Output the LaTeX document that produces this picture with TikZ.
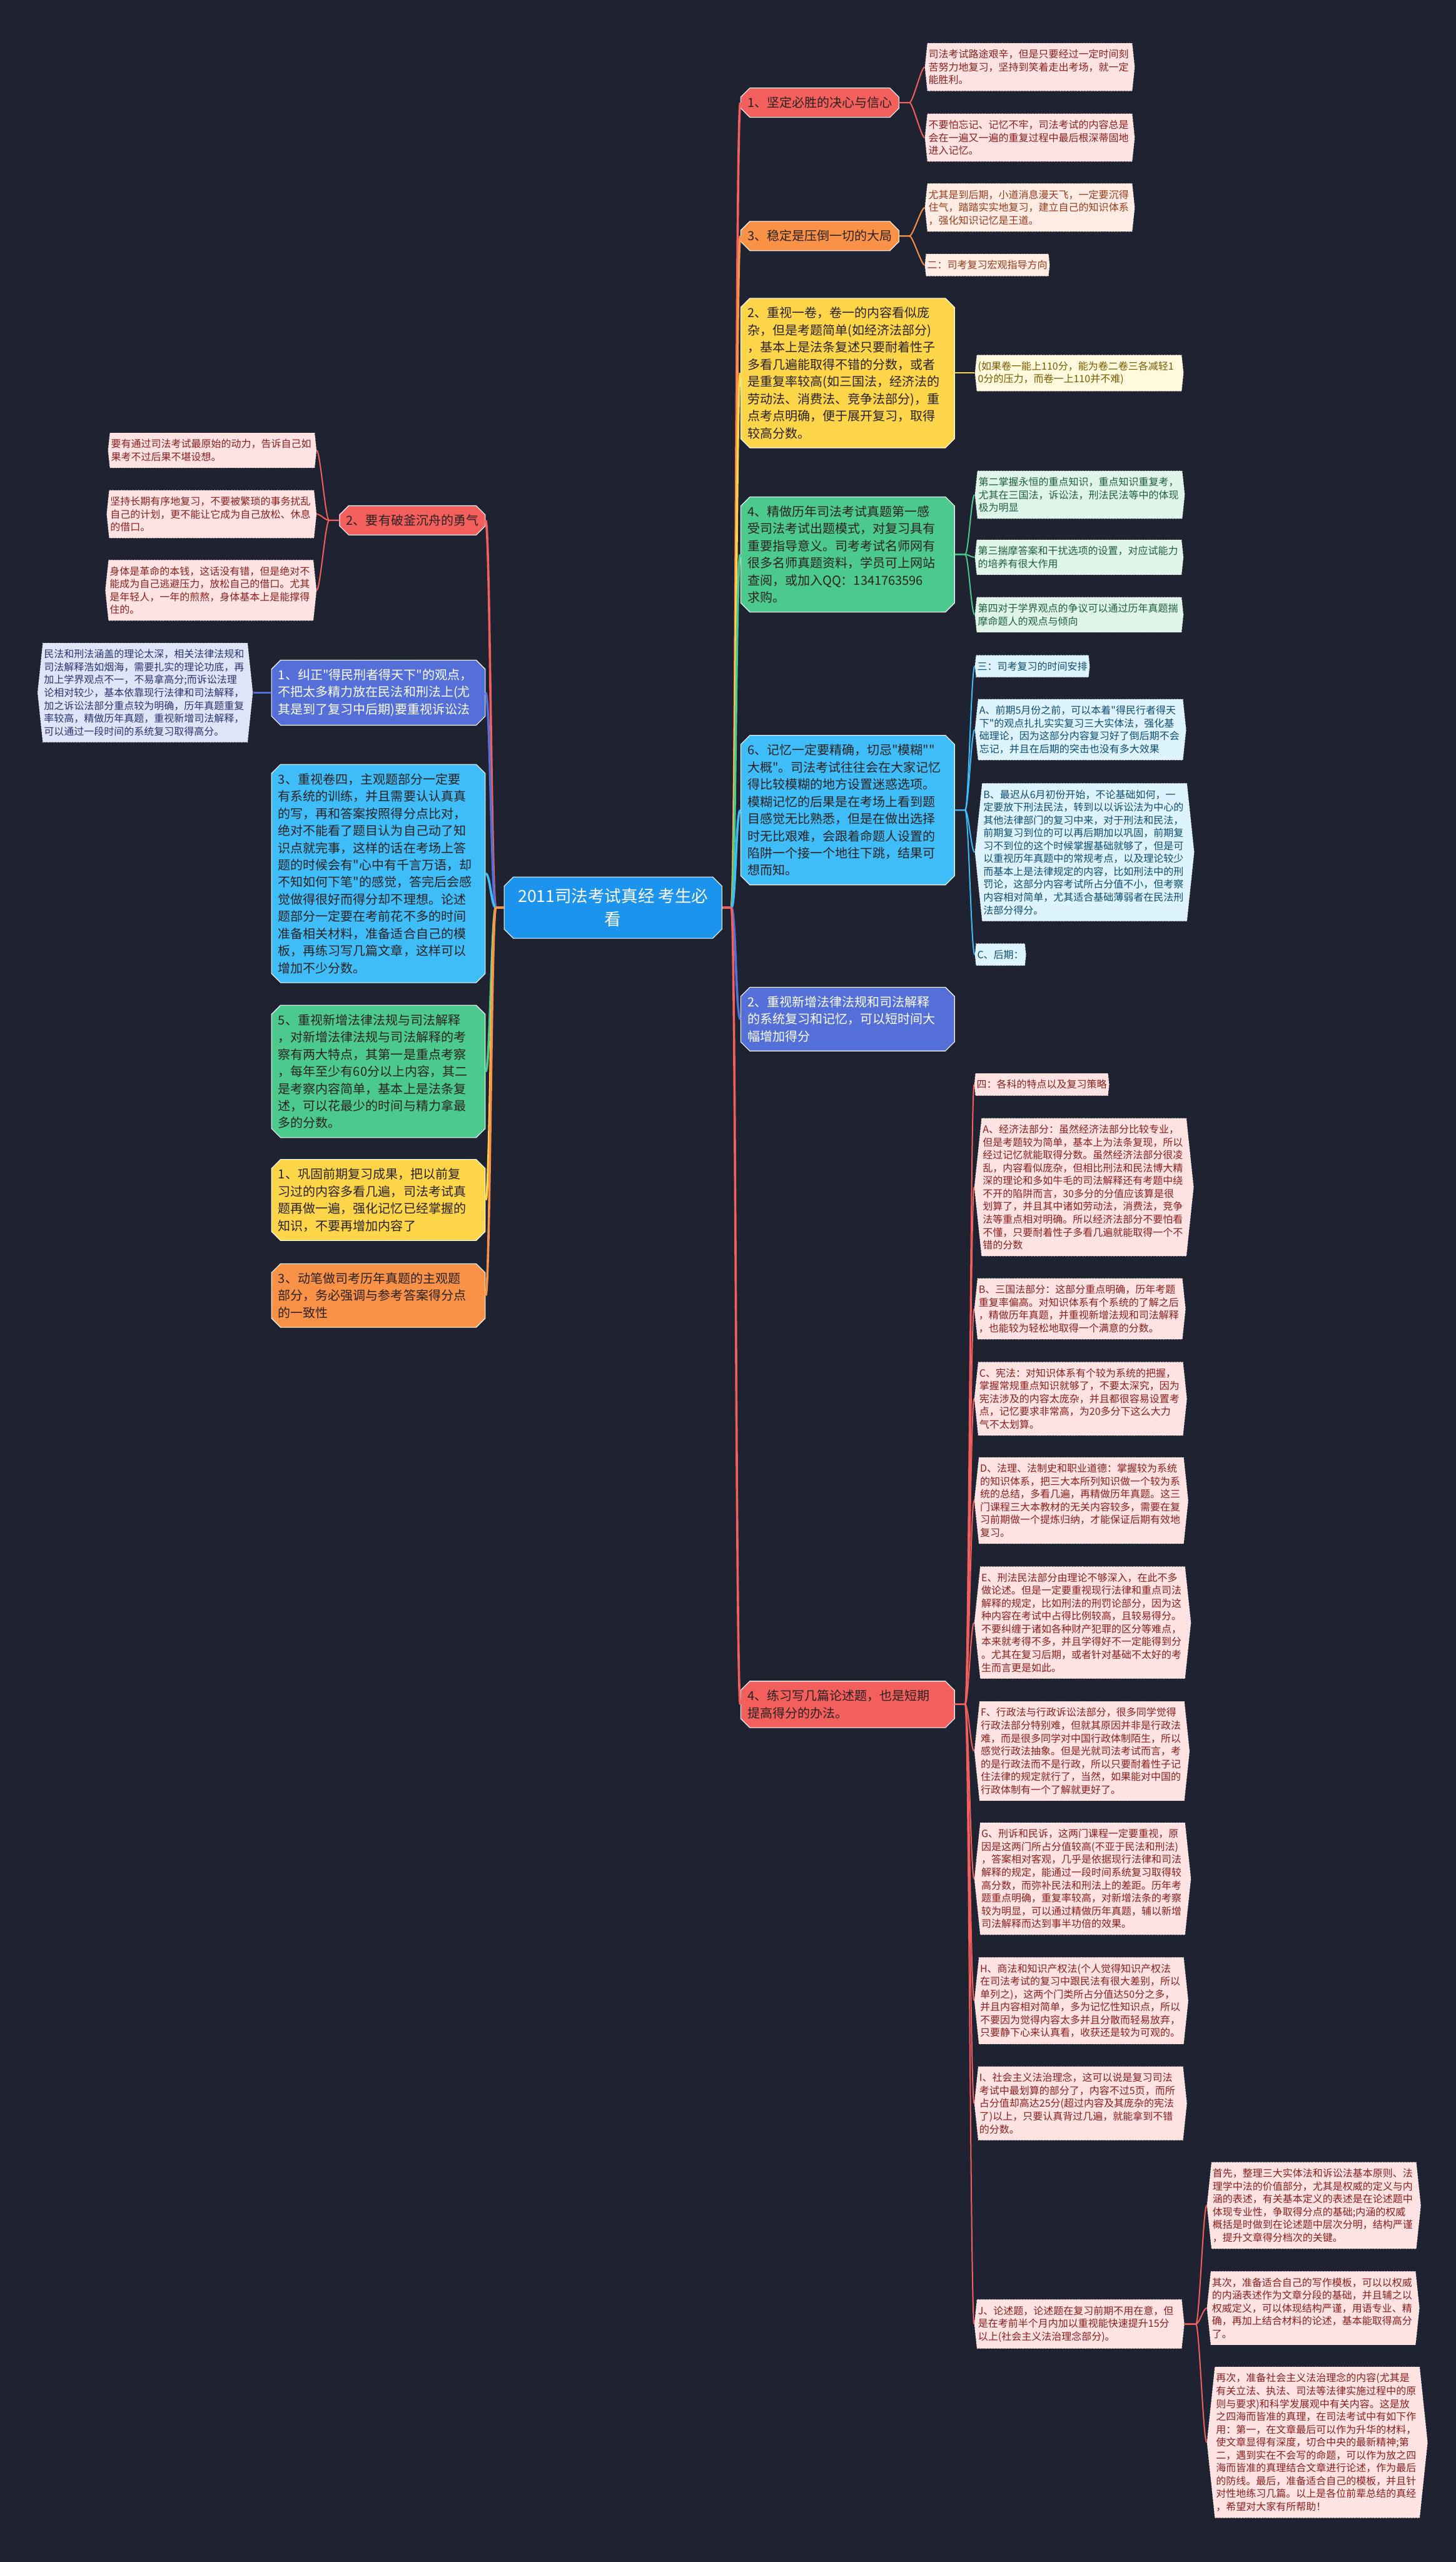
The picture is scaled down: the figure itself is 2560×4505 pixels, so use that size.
\documentclass[tikz,border=0pt]{standalone}
\usepackage{fontspec}
\setmainfont{Noto Sans CJK SC}[Ligatures=TeXOff]
\usepackage{tikz}
\usetikzlibrary{shapes.misc,shapes.symbols}
\definecolor{bgnavy}{HTML}{1F2231}
\definecolor{inkdark}{HTML}{2A2222}
\definecolor{centerblue}{HTML}{1C94EE}
\definecolor{redmain}{HTML}{F25F5C}
\definecolor{orangemain}{HTML}{F99247}
\definecolor{yellowmain}{HTML}{FDD548}
\definecolor{greenmain}{HTML}{4CC98C}
\definecolor{skymain}{HTML}{3EBDF8}
\definecolor{purplemain}{HTML}{5470D8}
\definecolor{pinkfill}{HTML}{FFE3E3}
\definecolor{peachfill}{HTML}{FFEDE5}
\definecolor{lemonfill}{HTML}{FFFADD}
\definecolor{mintfill}{HTML}{E0F5E9}
\definecolor{icefill}{HTML}{DDF4FF}
\definecolor{lavfill}{HTML}{DFE4F8}
\definecolor{wine}{HTML}{8B1E1E}
\definecolor{rust}{HTML}{9A3A1A}
\definecolor{olive}{HTML}{7A5A00}
\definecolor{pine}{HTML}{1E5E3E}
\definecolor{deepsea}{HTML}{0F4C70}
\definecolor{navyink}{HTML}{2A3470}
\newcommand{\trunkfont}{\fontsize{5.5pt}{7.55pt}\selectfont}
\newcommand{\leaffont}{\fontsize{4.4pt}{5.65pt}\selectfont}
\newcommand{\rootfont}{\fontsize{7.3pt}{10.2pt}\selectfont}
\tikzset{
  root/.style={chamfered rectangle,chamfered rectangle xsep=2pt,chamfered rectangle ysep=2pt,
    fill=centerblue,draw=white,line width=0.3pt,text=white,align=center,font=\rootfont,
    minimum width=95.75pt,inner ysep=3pt},
  trunk/.style={chamfered rectangle,chamfered rectangle xsep=2pt,chamfered rectangle ysep=2pt,
    inner xsep=1pt,inner ysep=1.9pt,draw=white,line width=0.3pt,align=left,font=\trunkfont,text=inkdark},
  widetrunk/.style={trunk,text width=88pt},
  tag/.style={signal,signal to=east and west,signal pointer angle=168,inner xsep=0.5pt,inner ysep=2.8pt,
    draw=white,densely dotted,line width=0.25pt,align=left,font=\leaffont},
  leaf/.style={tag,text width=89pt},
  pinkleaf/.style={fill=pinkfill,text=wine},
  peachleaf/.style={fill=peachfill,text=rust},
  lemonleaf/.style={fill=lemonfill,text=olive},
  mintleaf/.style={fill=mintfill,text=pine},
  iceleaf/.style={fill=icefill,text=deepsea},
  lavleaf/.style={fill=lavfill,text=navyink},
  link/.style={line width=1pt},
  twig/.style={line width=0.55pt}
}
\begin{document}
\begin{tikzpicture}[x=0.25pt,y=-0.25pt]
\fill[bgnavy] (0,0) rectangle (2560,4505);
\useasboundingbox (0,0) rectangle (2560,4505);
\node[root,anchor=west] (ctr) at (886,1596) {2011司法考试真经 考生必\\看};
\coordinate (hubR) at (1286,1596);
\coordinate (hubL) at (872,1596);
% right branches
\node[trunk,fill=redmain,anchor=west] (r1) at (1302,180.5) {1、坚定必胜的决心与信心};
\node[trunk,fill=orangemain,anchor=west] (r3) at (1302,415) {3、稳定是压倒一切的大局};
\node[widetrunk,fill=yellowmain,anchor=west] (r2) at (1302,656) {2、重视一卷，卷一的内容看似庞\\杂，但是考题简单(如经济法部分)\\，基本上是法条复述只要耐着性子\\多看几遍能取得不错的分数，或者\\是重复率较高(如三国法，经济法的\\劳动法、消费法、竞争法部分)，重\\点考点明确，便于展开复习，取得\\较高分数。};
\node[widetrunk,fill=greenmain,anchor=west] (r4) at (1302,975) {4、精做历年司法考试真题第一感\\受司法考试出题模式，对复习具有\\重要指导意义。司考考试名师网有\\很多名师真题资料，学员可上网站\\查阅，或加入QQ：1341763596\\求购。};
\node[widetrunk,fill=skymain,anchor=west] (r6) at (1302,1424.5) {6、记忆一定要精确，切忌"模糊""\\大概"。司法考试往往会在大家记忆\\得比较模糊的地方设置迷惑选项。\\模糊记忆的后果是在考场上看到题\\目感觉无比熟悉，但是在做出选择\\时无比艰难，会跟着命题人设置的\\陷阱一个接一个地往下跳，结果可\\想而知。};
\node[widetrunk,fill=purplemain,text=white,anchor=west] (r2x) at (1302,1792) {2、重视新增法律法规和司法解释\\的系统复习和记忆，可以短时间大\\幅增加得分};
\node[widetrunk,fill=redmain,anchor=west] (r4x) at (1302,2997) {4、练习写几篇论述题，也是短期\\提高得分的办法。};
% right leaves
\node[leaf,pinkleaf,anchor=west] (r1a) at (1626,118) {司法考试路途艰辛，但是只要经过一定时间刻\\苦努力地复习，坚持到笑着走出考场，就一定\\能胜利。};
\node[leaf,pinkleaf,anchor=west] (r1b) at (1626,242) {不要怕忘记、记忆不牢，司法考试的内容总是\\会在一遍又一遍的重复过程中最后根深蒂固地\\进入记忆。};
\node[leaf,peachleaf,anchor=west] (r3a) at (1626,365) {尤其是到后期，小道消息漫天飞，一定要沉得\\住气，踏踏实实地复习，建立自己的知识体系\\，强化知识记忆是王道。};
\node[tag,peachleaf,anchor=west] (r3b) at (1626,466) {二：司考复习宏观指导方向};
\node[leaf,lemonleaf,anchor=west] (r2a) at (1714,656) {(如果卷一能上110分，能为卷二卷三各减轻1\\0分的压力，而卷一上110并不难)};
\node[leaf,mintleaf,anchor=west] (r4a) at (1714,870) {第二掌握永恒的重点知识，重点知识重复考，\\尤其在三国法，诉讼法，刑法民法等中的体现\\极为明显};
\node[leaf,mintleaf,anchor=west] (r4b) at (1714,980) {第三揣摩答案和干扰选项的设置，对应试能力\\的培养有很大作用};
\node[leaf,mintleaf,anchor=west] (r4c) at (1714,1081) {第四对于学界观点的争议可以通过历年真题揣\\摩命题人的观点与倾向};
\node[tag,iceleaf,anchor=west] (r6a) at (1714,1171.5) {三：司考复习的时间安排};
\node[leaf,iceleaf,anchor=west] (r6b) at (1714,1283) {A、前期5月份之前，可以本着"得民行者得天\\下"的观点扎扎实实复习三大实体法，强化基\\础理论，因为这部分内容复习好了倒后期不会\\忘记，并且在后期的突击也没有多大效果};
\node[leaf,iceleaf,anchor=west] (r6c) at (1714,1498.5) {B、最迟从6月初份开始，不论基础如何，一\\定要放下刑法民法，转到以以诉讼法为中心的\\其他法律部门的复习中来，对于刑法和民法，\\前期复习到位的可以再后期加以巩固，前期复\\习不到位的这个时候掌握基础就够了，但是可\\以重视历年真题中的常规考点，以及理论较少\\而基本上是法律规定的内容，比如刑法中的刑\\罚论，这部分内容考试所占分值不小，但考察\\内容相对简单，尤其适合基础薄弱者在民法刑\\法部分得分。};
\node[tag,iceleaf,anchor=west] (r6d) at (1714,1678.5) {C、后期：};
\node[tag,pinkleaf,anchor=west] (sk0) at (1713,1907) {四：各科的特点以及复习策略};
\node[leaf,pinkleaf,anchor=west] (skA) at (1713,2087.5) {A、经济法部分：虽然经济法部分比较专业，\\但是考题较为简单，基本上为法条复现，所以\\经过记忆就能取得分数。虽然经济法部分很凌\\乱，内容看似庞杂，但相比刑法和民法博大精\\深的理论和多如牛毛的司法解释还有考题中绕\\不开的陷阱而言，30多分的分值应该算是很\\划算了，并且其中诸如劳动法，消费法，竞争\\法等重点相对明确。所以经济法部分不要怕看\\不懂，只要耐着性子多看几遍就能取得一个不\\错的分数};
\node[leaf,pinkleaf,anchor=west] (skB) at (1713,2301.5) {B、三国法部分：这部分重点明确，历年考题\\重复率偏高。对知识体系有个系统的了解之后\\，精做历年真题，并重视新增法规和司法解释\\，也能较为轻松地取得一个满意的分数。};
\node[leaf,pinkleaf,anchor=west] (skC) at (1713,2459.5) {C、宪法：对知识体系有个较为系统的把握，\\掌握常规重点知识就够了，不要太深究，因为\\宪法涉及的内容太庞杂，并且都很容易设置考\\点，记忆要求非常高，为20多分下这么大力\\气不太划算。};
\node[leaf,pinkleaf,anchor=west] (skD) at (1713,2638.5) {D、法理、法制史和职业道德：掌握较为系统\\的知识体系，把三大本所列知识做一个较为系\\统的总结，多看几遍，再精做历年真题。这三\\门课程三大本教材的无关内容较多，需要在复\\习前期做一个提炼归纳，才能保证后期有效地\\复习。};
\node[leaf,pinkleaf,anchor=west] (skE) at (1713,2853) {E、刑法民法部分由理论不够深入，在此不多\\做论述。但是一定要重视现行法律和重点司法\\解释的规定，比如刑法的刑罚论部分，因为这\\种内容在考试中占得比例较高，且较易得分。\\不要纠缠于诸如各种财产犯罪的区分等难点，\\本来就考得不多，并且学得好不一定能得到分\\。尤其在复习后期，或者针对基础不太好的考\\生而言更是如此。};
\node[leaf,pinkleaf,anchor=west] (skF) at (1713,3079) {F、行政法与行政诉讼法部分，很多同学觉得\\行政法部分特别难，但就其原因并非是行政法\\难，而是很多同学对中国行政体制陌生，所以\\感觉行政法抽象。但是光就司法考试而言，考\\的是行政法而不是行政，所以只要耐着性子记\\住法律的规定就行了，当然，如果能对中国的\\行政体制有一个了解就更好了。};
\node[leaf,pinkleaf,anchor=west] (skG) at (1713,3303.5) {G、刑诉和民诉，这两门课程一定要重视，原\\因是这两门所占分值较高(不亚于民法和刑法)\\，答案相对客观，几乎是依据现行法律和司法\\解释的规定，能通过一段时间系统复习取得较\\高分数，而弥补民法和刑法上的差距。历年考\\题重点明确，重复率较高，对新增法条的考察\\较为明显，可以通过精做历年真题，辅以新增\\司法解释而达到事半功倍的效果。};
\node[leaf,pinkleaf,anchor=west] (skH) at (1713,3518) {H、商法和知识产权法(个人觉得知识产权法\\在司法考试的复习中跟民法有很大差别，所以\\单列之)，这两个门类所占分值达50分之多，\\并且内容相对简单，多为记忆性知识点，所以\\不要因为觉得内容太多并且分散而轻易放弃，\\只要静下心来认真看，收获还是较为可观的。};
\node[leaf,pinkleaf,anchor=west] (skI) at (1713,3698.5) {I、社会主义法治理念，这可以说是复习司法\\考试中最划算的部分了，内容不过5页，而所\\占分值却高达25分(超过内容及其庞杂的宪法\\了)以上，只要认真背过几遍，就能拿到不错\\的分数。};
\node[leaf,pinkleaf,anchor=west] (skJ) at (1713,4086.5) {J、论述题，论述题在复习前期不用在意，但\\是在考前半个月内加以重视能快速提升15分\\以上(社会主义法治理念部分)。};
\node[leaf,pinkleaf,anchor=west] (js1) at (2122,3878) {首先，整理三大实体法和诉讼法基本原则、法\\理学中法的价值部分，尤其是权威的定义与内\\涵的表述，有关基本定义的表述是在论述题中\\体现专业性，争取得分点的基础;内涵的权威\\概括是时做到在论述题中层次分明，结构严谨\\，提升文章得分档次的关键。};
\node[leaf,pinkleaf,anchor=west] (js2) at (2122,4058.5) {其次，准备适合自己的写作模板，可以以权威\\的内涵表述作为文章分段的基础，并且辅之以\\权威定义，可以体现结构严谨，用语专业、精\\确，再加上结合材料的论述，基本能取得高分\\了。};
\node[leaf,pinkleaf,anchor=west] (js3) at (2122,4294.5) {再次，准备社会主义法治理念的内容(尤其是\\有关立法、执法、司法等法律实施过程中的原\\则与要求)和科学发展观中有关内容。这是放\\之四海而皆准的真理，在司法考试中有如下作\\用：第一，在文章最后可以作为升华的材料，\\使文章显得有深度，切合中央的最新精神;第\\二，遇到实在不会写的命题，可以作为放之四\\海而皆准的真理结合文章进行论述，作为最后\\的防线。最后，准备适合自己的模板，并且针\\对性地练习几篇。以上是各位前辈总结的真经\\，希望对大家有所帮助！};
% left branches
\node[trunk,fill=redmain,anchor=east] (l2) at (854,915) {2、要有破釜沉舟的勇气};
\node[widetrunk,fill=purplemain,text=white,anchor=east] (l1) at (854,1218) {1、纠正"得民刑者得天下"的观点，\\不把太多精力放在民法和刑法上(尤\\其是到了复习中后期)要重视诉讼法};
\node[widetrunk,fill=skymain,anchor=east] (l3) at (854,1536) {3、重视卷四，主观题部分一定要\\有系统的训练，并且需要认认真真\\的写，再和答案按照得分点比对，\\绝对不能看了题目认为自己动了知\\识点就完事，这样的话在考场上答\\题的时候会有"心中有千言万语，却\\不知如何下笔"的感觉，答完后会感\\觉做得很好而得分却不理想。论述\\题部分一定要在考前花不多的时间\\准备相关材料，准备适合自己的模\\板，再练习写几篇文章，这样可以\\增加不少分数。};
\node[widetrunk,fill=greenmain,anchor=east] (l5) at (854,1884) {5、重视新增法律法规与司法解释\\，对新增法律法规与司法解释的考\\察有两大特点，其第一是重点考察\\，每年至少有60分以上内容，其二\\是考察内容简单，基本上是法条复\\述，可以花最少的时间与精力拿最\\多的分数。};
\node[widetrunk,fill=yellowmain,anchor=east] (l1y) at (854,2110) {1、巩固前期复习成果，把以前复\\习过的内容多看几遍，司法考试真\\题再做一遍，强化记忆已经掌握的\\知识，不要再增加内容了};
\node[widetrunk,fill=orangemain,anchor=east] (l3o) at (854,2278) {3、动笔做司考历年真题的主观题\\部分，务必强调与参考答案得分点\\的一致性};
% left leaves
\node[leaf,pinkleaf,anchor=east] (l2a) at (557,792) {要有通过司法考试最原始的动力，告诉自己如\\果考不过后果不堪设想。};
\node[leaf,pinkleaf,anchor=east] (l2b) at (557,904) {坚持长期有序地复习，不要被繁琐的事务扰乱\\自己的计划，更不能让它成为自己放松、休息\\的借口。};
\node[leaf,pinkleaf,anchor=east] (l2c) at (557,1038) {身体是革命的本钱，这话没有错，但是绝对不\\能成为自己逃避压力，放松自己的借口。尤其\\是年轻人，一年的煎熬，身体基本上是能撑得\\住的。};
\node[leaf,lavleaf,anchor=east] (l1a) at (445,1218) {民法和刑法涵盖的理论太深，相关法律法规和\\司法解释浩如烟海，需要扎实的理论功底，再\\加上学界观点不一，不易拿高分;而诉讼法理\\论相对较少，基本依靠现行法律和司法解释，\\加之诉讼法部分重点较为明确，历年真题重复\\率较高，精做历年真题，重视新增司法解释，\\可以通过一段时间的系统复习取得高分。};
% connectors
\foreach \n/\c in {r1/redmain,r3/orangemain,r2/yellowmain,r4/greenmain,r6/skymain,r2x/purplemain,r4x/redmain}
  \draw[link,\c] (hubR) .. controls +(8,0) and +(-8,0) .. (\n.west);
\foreach \n/\c in {l2/redmain,l1/purplemain,l3/skymain,l5/greenmain,l1y/yellowmain,l3o/orangemain}
  \draw[link,\c] (hubL) .. controls +(-8,0) and +(8,0) .. (\n.east);
\draw[link,redmain] (ctr.east) -- (hubR);
\draw[link,orangemain] (ctr.west) -- (hubL);
\foreach \k in {r1a,r1b}
  \draw[twig,redmain] (r1.east) -- ++(18,0) .. controls +(6,0) and +(-6,0) .. (\k.west);
\foreach \k in {r3a,r3b}
  \draw[twig,orangemain] (r3.east) -- ++(18,0) .. controls +(6,0) and +(-6,0) .. (\k.west);
\draw[twig,yellowmain] (r2.east) -- (r2a.west);
\foreach \k in {r4a,r4b,r4c}
  \draw[twig,greenmain] (r4.east) -- ++(18,0) .. controls +(6,0) and +(-6,0) .. (\k.west);
\foreach \k in {r6a,r6b,r6c,r6d}
  \draw[twig,skymain] (r6.east) -- ++(18,0) .. controls +(6,0) and +(-6,0) .. (\k.west);
\foreach \k in {sk0,skA,skB,skC,skD,skE,skF,skG,skH,skI,skJ}
  \draw[twig,redmain] (r4x.east) -- ++(18,0) .. controls +(6,0) and +(-6,0) .. (\k.west);
\foreach \k in {js1,js2,js3}
  \draw[twig,redmain] (skJ.east) -- ++(20,0) .. controls +(6,0) and +(-6,0) .. (\k.west);
\foreach \k in {l2a,l2b,l2c}
  \draw[twig,redmain] (l2.west) -- ++(-18,0) .. controls +(-6,0) and +(6,0) .. (\k.east);
\draw[twig,purplemain,line width=1pt] (l1.west) -- (l1a.east);
\end{tikzpicture}
\end{document}
